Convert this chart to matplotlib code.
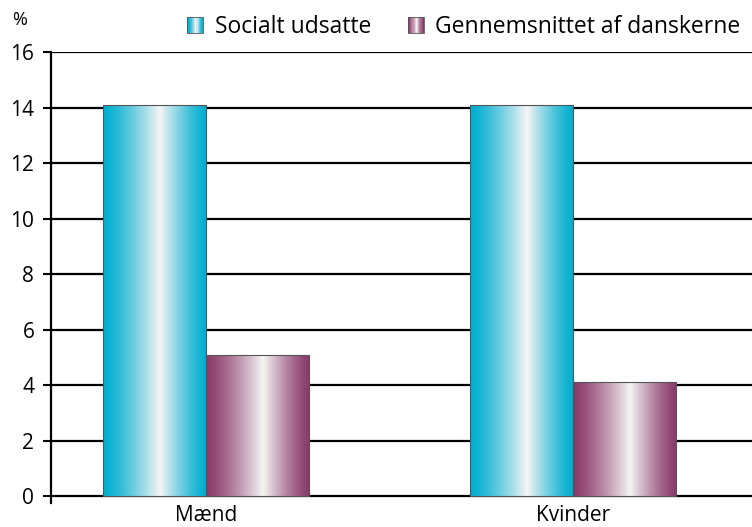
import numpy as np
import matplotlib
matplotlib.use("Agg")
import matplotlib.pyplot as plt
from matplotlib.patches import Rectangle
from matplotlib.legend_handler import HandlerBase
from matplotlib.colors import to_rgb

categories = ["Mænd", "Kvinder"]
series_names = ["Socialt udsatte", "Gennemsnittet af danskerne"]
socialt_udsatte = [14.1, 14.1]
gennemsnit = [5.1, 4.1]
yticks = [0, 2, 4, 6, 8, 10, 12, 14, 16]
base_colors = ["#00AECF", "#8A3A6A"]

plt.rcParams['font.family'] = ['Open Sans', 'DejaVu Sans']

def grad_profile(n=200, peak=0.55):
    t = np.linspace(0, 1, n)
    f = np.where(t < peak, t / peak, (1 - t) / (1 - peak))
    f = np.clip(f, 0, 1) ** 1.3
    return f

def grad_colors(color, n=200):
    c = np.array(to_rgb(color))
    w = np.array([0.96, 0.96, 0.96])
    f = grad_profile(n)[:, None]
    return c * (1 - f) + w * f

fig = plt.figure(figsize=(7.52, 5.27), dpi=100)
ax = fig.add_axes([51/752, 1 - 503/527, 1 - 51/752, (503 - 52)/527])

x = np.arange(len(categories))
width = 0.281
series = [socialt_udsatte, gennemsnit]
offsets = [-width/2, width/2]

for yv in yticks:
    ax.axhline(yv, color='black', lw=1.6, zorder=1)

for s, (vals, col, off) in enumerate(zip(series, base_colors, offsets)):
    bars = ax.bar(x + off, vals, width, facecolor='none', edgecolor='#555555', lw=0.8, zorder=3)
    img = grad_colors(col)[None, :, :]
    for b in bars:
        x0, y0 = b.get_x(), b.get_y()
        w, h = b.get_width(), b.get_height()
        im = ax.imshow(img, extent=[x0, x0 + w, y0, y0 + h], aspect='auto', zorder=2, interpolation='bilinear')
        im.set_clip_path(b)

ax.set_xlim((51 - 206) / 367, (752 - 206) / 367)
ax.set_ylim(-0.25, 16)
ax.set_yticks(yticks)
ax.set_yticklabels([str(v) for v in yticks], fontsize=15)
ax.set_xticks(x)
ax.set_xticklabels(categories, fontsize=15)
ax.tick_params(axis='x', length=0, pad=1.5)
ax.tick_params(axis='y', length=5.5, width=1.5, pad=6.5)
for sp in ['top', 'right', 'bottom']:
    ax.spines[sp].set_visible(False)
ax.spines['left'].set_linewidth(1.6)

fig.text(20/752, 1 - 20/527, "%", fontsize=13, ha='center', va='center')

class GradHandler(HandlerBase):
    def __init__(self, color):
        super().__init__()
        self.color = color
    def create_artists(self, legend, orig_handle, xdescent, ydescent, width, height, fontsize, trans):
        n = 14
        cols = grad_colors(self.color, n)
        side = width
        y0 = -ydescent + (height - side) / 2
        arts = []
        for i in range(n):
            r = Rectangle((-xdescent + i * side / n, y0), side / n, side,
                          facecolor=cols[i], edgecolor='none', transform=trans)
            arts.append(r)
        arts.append(Rectangle((-xdescent, y0), side, side,
                              facecolor='none', edgecolor='#555555', lw=0.6, transform=trans))
        return arts

h1 = Rectangle((0, 0), 1, 1)
h2 = Rectangle((0, 0), 1, 1)
fig.legend([h1, h2], series_names, handler_map={h1: GradHandler(base_colors[0]), h2: GradHandler(base_colors[1])},
           loc='center right', bbox_to_anchor=(1.0, 1 - 27/527), ncol=2, frameon=False,
           fontsize=16.5, handlelength=0.7, handletextpad=0.5, columnspacing=1.6, borderpad=0)

fig.savefig("out.png", dpi=100)
